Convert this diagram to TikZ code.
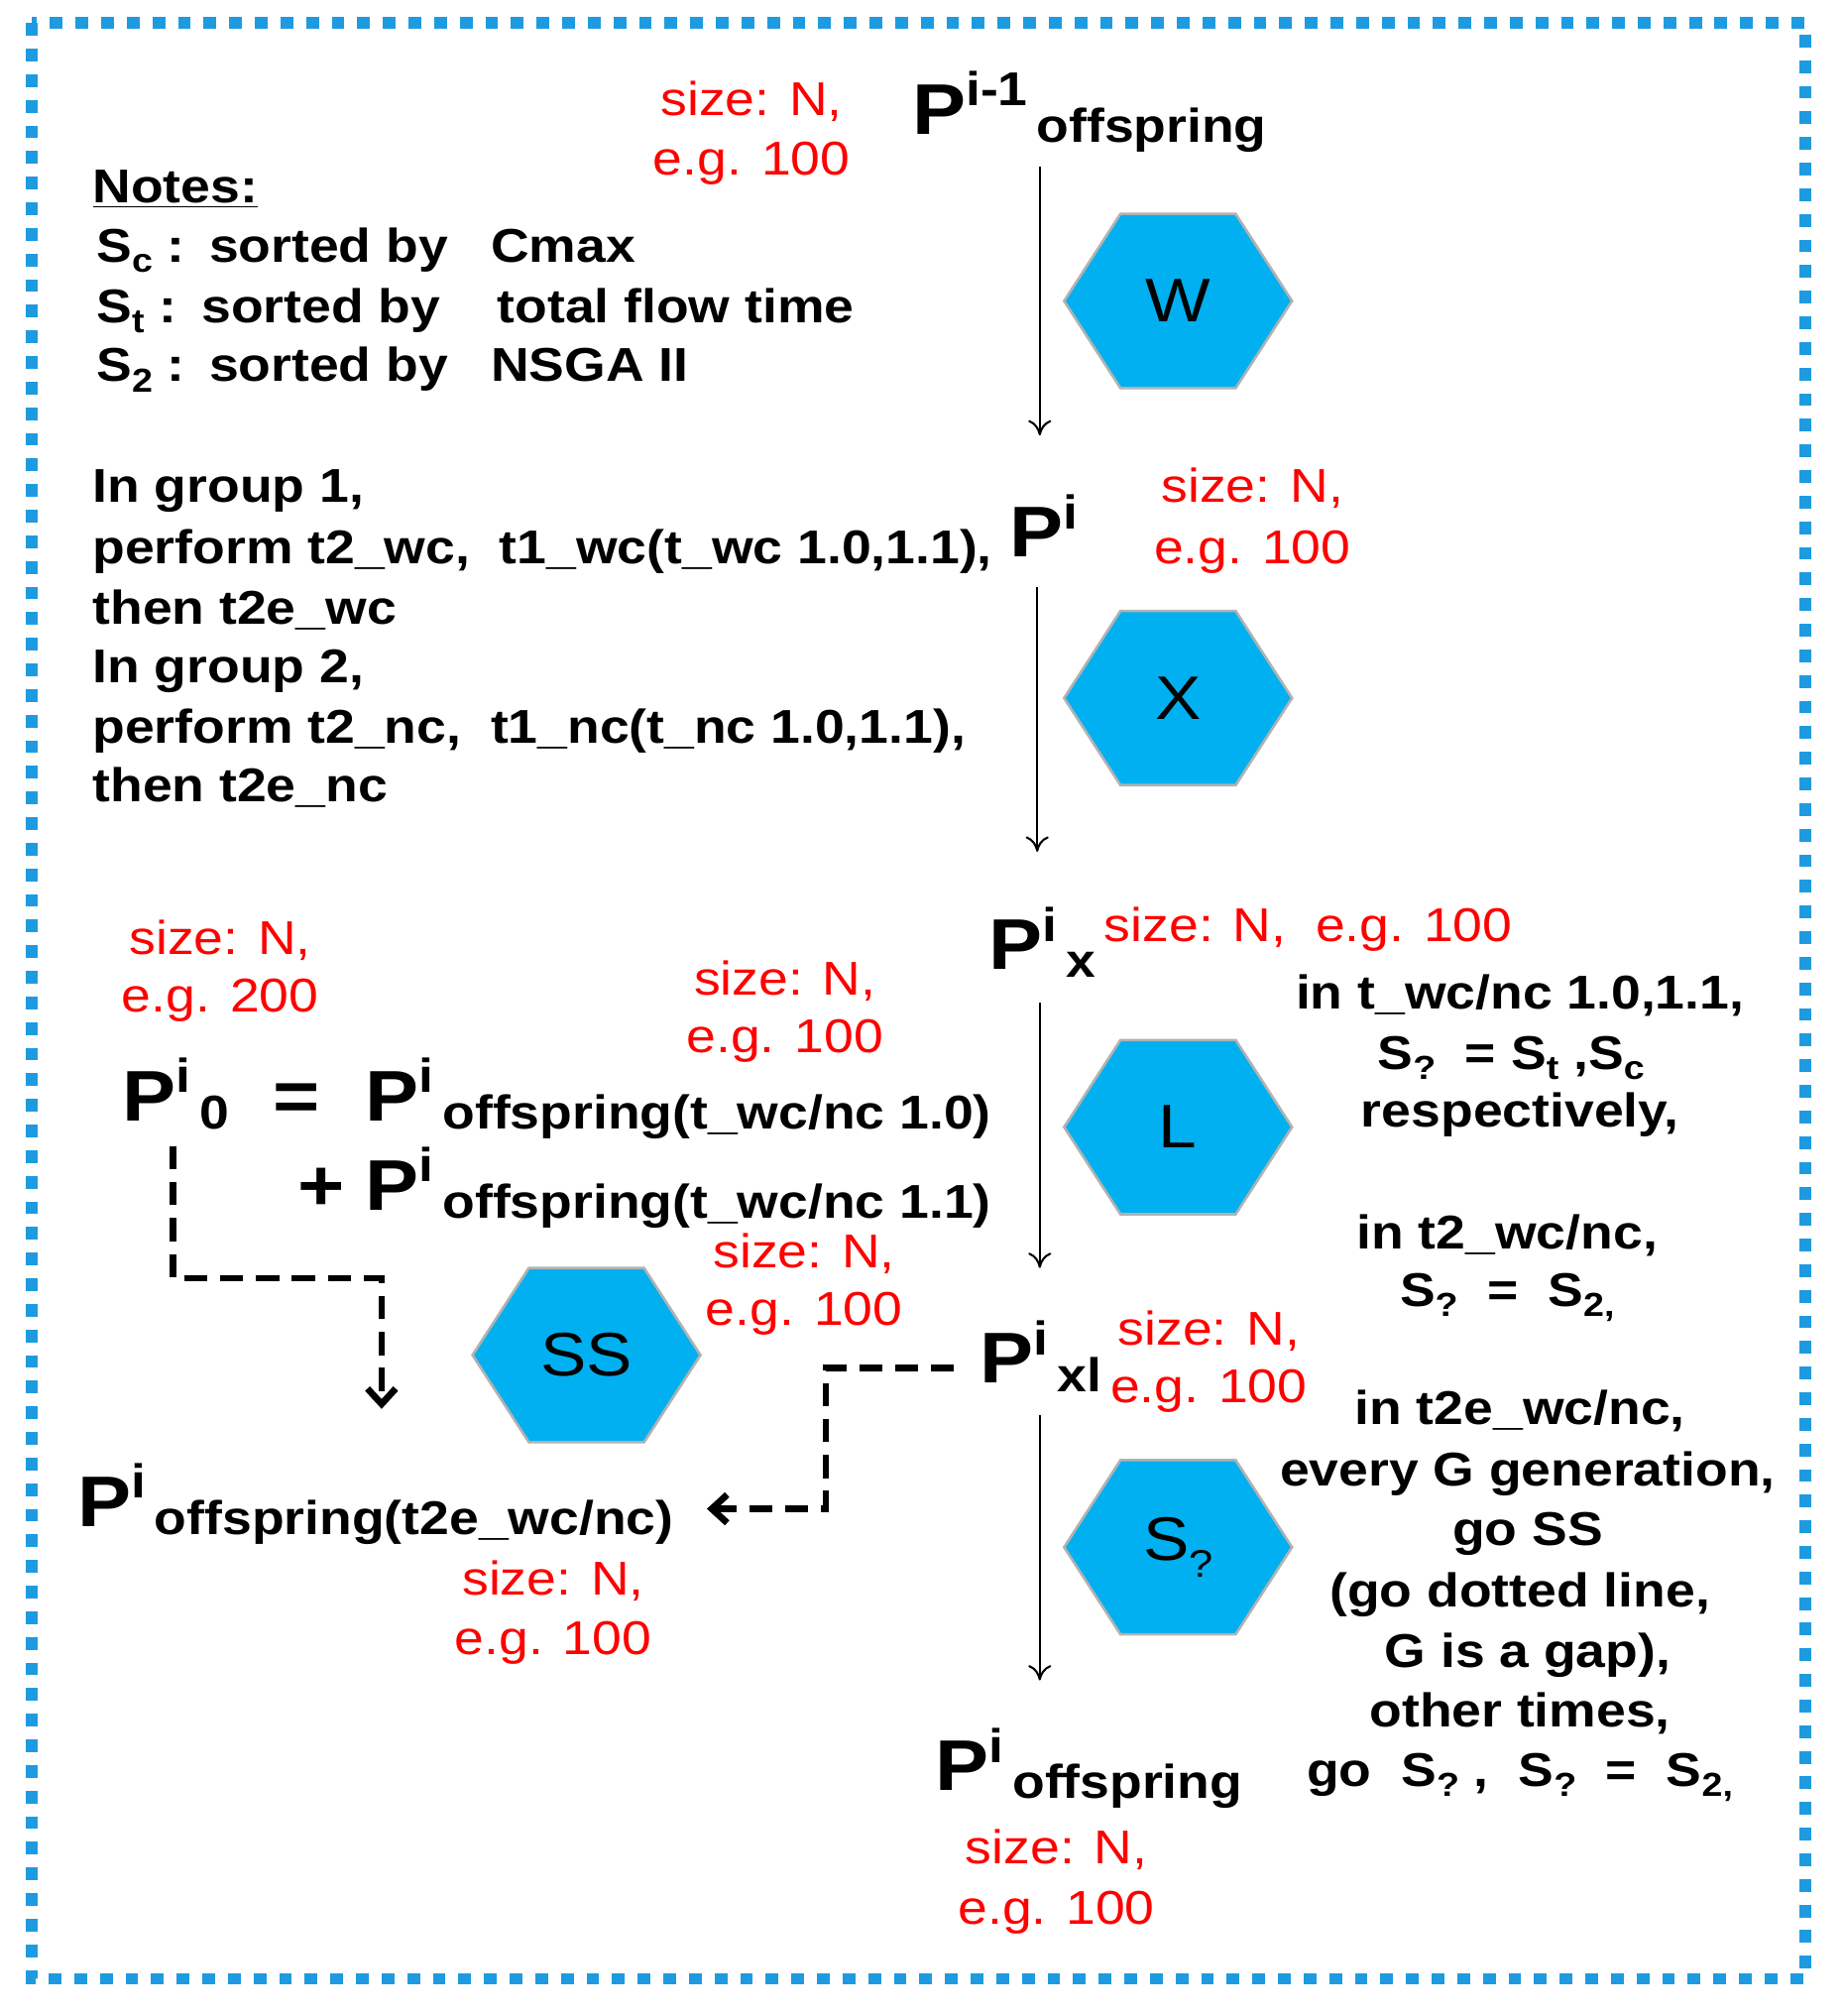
\documentclass[tikz,border=0pt]{standalone}
\usepackage{fontspec}
\setmainfont[FakeStretch=1.12]{Liberation Sans}
\usetikzlibrary{arrows.meta}
\definecolor{hexc}{HTML}{00B0F0}
\definecolor{brd}{HTML}{1E9BE0}
\newcommand\bt{\fontsize{18.5}{21}\selectfont\bfseries}
\newcommand\bigP[2]{{\fontsize{28}{30}\selectfont\bfseries P}\raisebox{2.1ex}{\bt #1}\hspace{0.35em}\raisebox{-0.6ex}{\bt #2}}
\newcommand\sq{S\raisebox{-0.4ex}{\fontsize{13}{13}\selectfont ?}}
\newcommand\mysub[1]{\raisebox{-0.4ex}{\fontsize{13}{13}\selectfont #1}}
\begin{document}
\begin{tikzpicture}[x=0.5pt,y=-0.5pt,
  red/.style={text=red,font=\fontsize{18.5}{21}\selectfont,anchor=base,inner sep=0},
  blk/.style={font=\bt,anchor=base west,inner sep=0},
  rb/.style={font=\bt,anchor=base,inner sep=0},
  pp/.style={anchor=base west,inner sep=0},
  flow/.style={-{To[length=6pt,width=9pt]},line width=0.8pt},
  dashed link/.style={line width=2.6pt,dash pattern=on 9pt off 5pt,-{Straight Barb[length=6pt,width=11pt,line width=2.6pt]}},
  hexs/.style={fill=hexc,draw=gray!60,line width=1pt}]
\useasboundingbox (0,0) rectangle (1440,1574);
\draw[brd,line width=4.5pt,dash pattern=on 5pt off 5pt] (25,18) rectangle (1410,1545);
% hexagons
\foreach \n/\cx/\cy/\t in {W/920/235/W,X/920/545/X,L/920/880/L,SS/458/1058/SS,Sq/920/1208/{S\raisebox{-0.5ex}{\fontsize{15}{15}\selectfont ?}}}{
  \draw[hexs] (\cx-89,\cy) -- (\cx-45,\cy-68) -- (\cx+45,\cy-68) -- (\cx+89,\cy) -- (\cx+45,\cy+68) -- (\cx-45,\cy+68) -- cycle;
  \node[font=\fontsize{24}{24}\selectfont] (\n) at (\cx,\cy) {\t};
}
% main P nodes
\node[pp] (P0) at (712,105) {\bigP{i-1}{offspring}};
\node[pp] (P1) at (788,435) {\bigP{i}{}};
\node[pp] (Px) at (772,757) {\bigP{i}{x}};
\node[pp] (Pxl) at (765,1080) {\bigP{i}{xl}};
\node[pp] (Pend) at (730,1398) {\bigP{i}{offspring}};
\node[pp] (Pz) at (95,875) {\bigP{i}{0}};
\node[blk,font=\fontsize{28}{30}\selectfont\bfseries] (eq) at (213,875) {=};
\node[pp] (Pa) at (285,875) {\bigP{i}{offspring(t\_wc/nc 1.0)}};
\node[blk,font=\fontsize{28}{30}\selectfont\bfseries] (plus) at (232,945) {+};
\node[pp] (Pb) at (285,945) {\bigP{i}{offspring(t\_wc/nc 1.1)}};
\node[pp] (Pss) at (60,1192) {\bigP{i}{offspring(t2e\_wc/nc)}};
% arrows
\coordinate (a1) at (812,130); \coordinate (a2) at (812,340);
\coordinate (b1) at (810,458); \coordinate (b2) at (810,665);
\coordinate (c1) at (812,783); \coordinate (c2) at (812,990);
\coordinate (d1) at (812,1105); \coordinate (d2) at (812,1312);
\draw[flow] (a1) -- (a2);
\draw[flow] (b1) -- (b2);
\draw[flow] (c1) -- (c2);
\draw[flow] (d1) -- (d2);
\coordinate (e1) at (135,895); \coordinate (e2) at (298,1100);
\draw[dashed link] (e1) -- (135,998) -- (298,998) -- (e2);
\coordinate (f1) at (745,1068); \coordinate (f2) at (552,1178);
\draw[dashed link] (f1) -- (645,1068) -- (645,1178) -- (f2);
% red labels
\node[red] (r1) at (587,90) {size: N,}; \node[red] at (587,137) {e.g. 100};
\node[red] (r2) at (978,392) {size: N,}; \node[red] at (978,440) {e.g. 100};
\node[red,anchor=base west] (r3) at (862,735) {size: N,\ \ e.g. 100};
\node[red] (r4) at (172,745) {size: N,}; \node[red] at (172,790) {e.g. 200};
\node[red] (r5) at (613,777) {size: N,}; \node[red] at (613,822) {e.g. 100};
\node[red] (r6) at (628,990) {size: N,}; \node[red] at (628,1035) {e.g. 100};
\node[red] (r7) at (944,1050) {size: N,}; \node[red] at (944,1095) {e.g. 100};
\node[red] (r8) at (432,1245) {size: N,}; \node[red] at (432,1292) {e.g. 100};
\node[red] (r9) at (825,1455) {size: N,}; \node[red] at (825,1502) {e.g. 100};
% notes
\node[blk] (notes) at (72,158) {\underline{Notes:}};
\node[blk] at (75,205) {S\mysub{c} :};
\node[blk] at (163,205) {sorted by};
\node[blk] at (383,205) {Cmax};
\node[blk] at (75,252) {S\mysub{t} :};
\node[blk] at (157,252) {sorted by};
\node[blk] at (388,252) {total flow time};
\node[blk] at (75,298) {S\mysub{2} :};
\node[blk] at (163,298) {sorted by};
\node[blk] at (383,298) {NSGA II};
% group text
\node[blk] at (72,392) {In group 1,};
\node[blk] at (72,440) {perform t2\_wc,\ \ t1\_wc(t\_wc 1.0,1.1),};
\node[blk] at (72,487) {then t2e\_wc};
\node[blk] at (72,533) {In group 2,};
\node[blk] at (72,580) {perform t2\_nc,\ \ t1\_nc(t\_nc 1.0,1.1),};
\node[blk] at (72,626) {then t2e\_nc};
% right text
\node[rb] at (1187,788) {in t\_wc/nc 1.0,1.1,};
\node[rb] at (1180,835) {\sq\ \ = S\mysub{t} ,S\mysub{c}};
\node[rb] at (1187,880) {respectively,};
\node[rb] at (1177,975) {in t2\_wc/nc,};
\node[rb] at (1177,1020) {\sq\ \ =\ \ S\mysub{2,}};
\node[rb] at (1187,1112) {in t2e\_wc/nc,};
\node[rb] at (1193,1160) {every G generation,};
\node[rb] at (1193,1207) {go SS};
\node[rb] at (1187,1255) {(go dotted line,};
\node[rb] at (1193,1302) {G is a gap),};
\node[rb] at (1187,1348) {other times,};
\node[rb] at (1187,1395) {go\ \ \sq\ ,\ \ \sq\ \ =\ \ S\mysub{2,}};
\end{tikzpicture}
\end{document}
